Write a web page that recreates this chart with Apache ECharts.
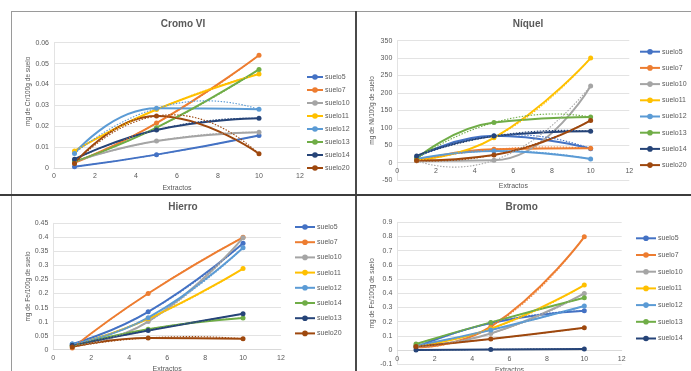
<!DOCTYPE html>
<html><head><meta charset="utf-8">
<script src="https://cdn.jsdelivr.net/npm/echarts@6/dist/echarts.min.js"></script>
<style>
html,body{margin:0;padding:0;width:691px;height:371px;overflow:hidden;background:#fff;position:relative;}
.p{position:absolute;width:343px;}
.ln{position:absolute;}
</style></head><body>
<div class="ln" style="left:11px;top:11px;width:680px;height:1px;background:#9a9a9a"></div>
<div class="ln" style="left:11px;top:11px;width:1px;height:360px;background:#9a9a9a"></div>
<div id="c1" class="p" style="left:12px;top:12px;height:182px"></div>
<div id="c2" class="p" style="left:357px;top:12px;height:182px"></div>
<div id="c3" class="p" style="left:12px;top:196px;height:175px"></div>
<div id="c4" class="p" style="left:357px;top:196px;height:175px"></div>
<div class="ln" style="left:355px;top:11px;width:2px;height:360px;background:#4a4a4a"></div>
<div class="ln" style="left:0px;top:194px;width:691px;height:2px;background:#3c3c3c"></div>
<script>
// ---- data ----
const extractos = [1, 5, 10];
const xTicks = [0, 2, 4, 6, 8, 10, 12];

const cromoNames = ['suelo5','suelo7','suelo10','suelo11','suelo12','suelo13','suelo14','suelo20'];
const cromoValues = [
  [0.0006, 0.0064, 0.0156],
  [0.0025, 0.0215, 0.054],
  [0.003, 0.0129, 0.0171],
  [0.0082, 0.028, 0.045],
  [0.007, 0.0286, 0.0281],
  [0.003, 0.0193, 0.0472],
  [0.0042, 0.0182, 0.0238],
  [0.0022, 0.0249, 0.0068]
];
const cromoTicks = [0, 0.01, 0.02, 0.03, 0.04, 0.05, 0.06];

const niquelNames = ['suelo5','suelo7','suelo10','suelo11','suelo12','suelo13','suelo14','suelo20'];
const niquelValues = [
  [15, 77, 40],
  [5, 38, 41],
  [5, 6.6, 220],
  [8, 71, 300],
  [10, 33, 10],
  [12, 115, 131],
  [19, 76, 90],
  [6, 22, 121]
];
const niquelTicks = [-50, 0, 50, 100, 150, 200, 250, 300, 350];

const hierroNames = ['suelo5','suelo7','suelo10','suelo11','suelo12','suelo14','suelo13','suelo20'];
const hierroValues = [
  [0.02, 0.135, 0.379],
  [0.006, 0.2, 0.4],
  [0.015, 0.1, 0.399],
  [0.015, 0.11, 0.289],
  [0.02, 0.114, 0.363],
  [0.012, 0.073, 0.113],
  [0.016, 0.068, 0.128],
  [0.01, 0.042, 0.039]
];
const hierroTicks = [0, 0.05, 0.1, 0.15, 0.2, 0.25, 0.3, 0.35, 0.4, 0.45];

const bromoNames = ['suelo5','suelo7','suelo10','suelo11','suelo12','suelo13','suelo14','suelo20'];
const bromoLegend = ['suelo5','suelo7','suelo10','suelo11','suelo12','suelo13','suelo14'];
const bromoValues = [
  [0.02, 0.19, 0.277],
  [0.02, 0.165, 0.798],
  [0.025, 0.117, 0.399],
  [0.03, 0.15, 0.458],
  [0.03, 0.141, 0.31],
  [0.043, 0.195, 0.368],
  [0, 0.005, 0.008],
  [0.025, 0.078, 0.157]
];
const bromoTicks = [-0.1, 0, 0.1, 0.2, 0.3, 0.4, 0.5, 0.6, 0.7, 0.8, 0.9];

// Excel palette by series position
const palette = ['#4472C4','#ED7D31','#A5A5A5','#FFC000','#5B9BD5','#70AD47','#264478','#9E480E'];

// polynomial (order 2) trendline through the series, as Excel draws it
function trendline(xs, ys) {
  const [x0,x1,x2] = xs, [y0,y1,y2] = ys;
  const f = x => y0*(x-x1)*(x-x2)/((x0-x1)*(x0-x2)) + y1*(x-x0)*(x-x2)/((x1-x0)*(x1-x2)) + y2*(x-x0)*(x-x1)/((x2-x0)*(x2-x1));
  const pts = [];
  for (let x = x0; x <= x2 + 1e-9; x += 0.2) pts.push([x, f(x)]);
  return pts;
}

const txt = '#595959';
const font = 'Liberation Sans, Arial, sans-serif';

function build(id, cfg) {
  const chart = echarts.init(document.getElementById(id), null, {renderer: 'canvas'});
  const series = [];
  cfg.names.forEach((n, i) => {
    series.push({
      type: 'line', name: n,
      data: extractos.map((x, j) => [x, cfg.values[i][j]]),
      smooth: 0.5, symbol: 'circle', symbolSize: 5, showSymbol: true,
      lineStyle: {width: 2, color: palette[i]},
      itemStyle: {color: palette[i]},
      emphasis: {disabled: true}
    });
  });
  cfg.names.forEach((n, i) => {
    series.push({
      type: 'line', name: n + ' tendencia',
      data: trendline(extractos, cfg.values[i]),
      smooth: false, symbol: 'none', silent: true,
      lineStyle: {width: 1.1, color: palette[i], type: [1.5, 1.5]},
      emphasis: {disabled: true}
    });
  });
  const yt = cfg.ticks;
  const yMin = yt[0], yMax = yt[yt.length - 1];
  // x axis crosses the value axis at 0 (Excel default)
  const zeroOffset = yMin < 0 ? -(0 - yMin) / (yMax - yMin) * cfg.grid[3] : 0;
  chart.setOption({
    animation: false,
    textStyle: {fontFamily: font},
    title: {
      text: cfg.title, left: cfg.titleX, top: cfg.titleY, textAlign: 'center', padding: 0,
      textStyle: {fontSize: 10, fontWeight: 'bold', color: txt, fontFamily: font}
    },
    legend: {
      data: cfg.legend || cfg.names, orient: 'vertical',
      left: cfg.legLeft, top: cfg.legTop, padding: 0,
      itemWidth: cfg.legW, itemHeight: 7, itemGap: cfg.legGap,
      textStyle: {fontSize: 7, color: txt, lineHeight: 7, fontFamily: font, padding: [0, 0, 0, -3]},
      selectedMode: false
    },
    grid: {left: cfg.grid[0], top: cfg.grid[1], width: cfg.grid[2], height: cfg.grid[3],
           containLabel: false, outerBoundsMode: 'none'},
    xAxis: {
      type: 'value', min: xTicks[0], max: xTicks[xTicks.length-1], interval: xTicks[1]-xTicks[0],
      offset: zeroOffset,
      axisLine: {show: true, onZero: false, lineStyle: {color: '#d9d9d9', width: 1}},
      axisTick: {show: false}, splitLine: {show: false},
      axisLabel: {fontSize: 7, color: txt, margin: 5, fontFamily: font},
      name: 'Extractos', nameLocation: 'middle', nameGap: cfg.xNameGap, nameMoveOverlap: false,
      nameTextStyle: {fontSize: 7, color: txt, fontFamily: font}
    },
    yAxis: {
      type: 'value', min: yMin, max: yMax, interval: +(yt[1]-yt[0]).toFixed(6),
      axisLine: {show: true, lineStyle: {color: '#e3e3e3', width: 1}},
      axisTick: {show: false},
      splitLine: {show: true, lineStyle: {color: '#e3e3e3', width: 1}},
      axisLabel: {fontSize: 7, color: txt, margin: 5, fontFamily: font},
      name: cfg.yName, nameLocation: 'middle', nameGap: 22, nameMoveOverlap: false,
      nameTextStyle: {fontSize: 6.5, color: txt, fontFamily: font, padding: cfg.yNamePad}
    },
    series: series
  });
}

build('c1', {
  title: 'Cromo VI', titleX: 171, titleY: 7,
  names: cromoNames, values: cromoValues, ticks: cromoTicks,
  grid: [42, 30.7, 246, 125.3],
  legLeft: 294, legTop: 61.5, legW: 16, legGap: 6,
  yName: 'mg de Cr/100g de suelo', yNamePad: [0, 0, 0, 28], xNameGap: 17
});
build('c2', {
  title: 'Níquel', titleX: 171, titleY: 7,
  names: niquelNames, values: niquelValues, ticks: niquelTicks,
  grid: [40.3, 28.7, 232, 139.3],
  legLeft: 282, legTop: 36.2, legW: 20, legGap: 9.2,
  yName: 'mg de Ni/100g de suelo', yNamePad: [0, 0, 0, 0], xNameGap: 20
});
build('c3', {
  title: 'Hierro', titleX: 171, titleY: 6,
  names: hierroNames, values: hierroValues, ticks: hierroTicks,
  grid: [41.3, 27.3, 227.7, 126.4],
  legLeft: 282, legTop: 27.5, legW: 20, legGap: 8.2,
  yName: 'mg de Fe/100g de suelo', yNamePad: [0, 0, 0, 0], xNameGap: 16
});
build('c4', {
  title: 'Bromo', titleX: 164.7, titleY: 6,
  names: bromoNames, values: bromoValues, ticks: bromoTicks, legend: bromoLegend,
  grid: [40.3, 26.3, 224.4, 142],
  legLeft: 278, legTop: 38.8, legW: 20, legGap: 9.7,
  yName: 'mg de Fe/100g de suelo', yNamePad: [0, 0, 0, 0], xNameGap: 16
});
</script>
</body></html>
